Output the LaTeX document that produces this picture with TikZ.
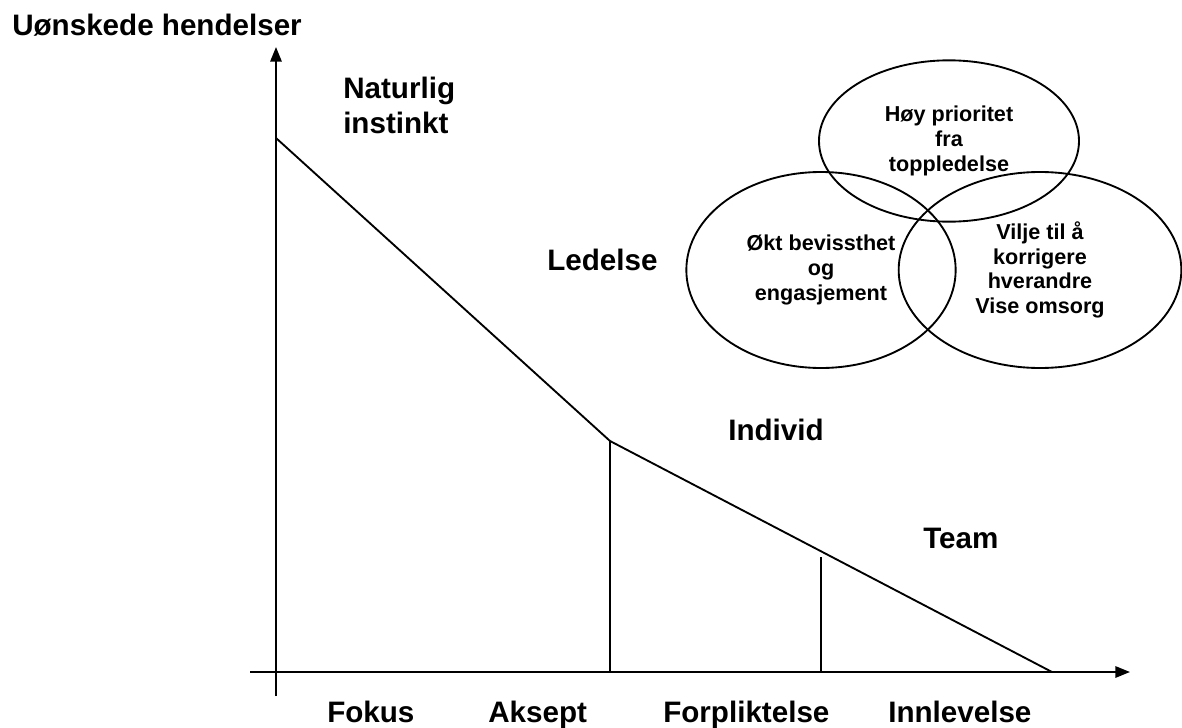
\documentclass[tikz,border=0pt]{standalone}
\usepackage{fontspec}
\setmainfont{Liberation Sans}
\usetikzlibrary{shapes.geometric,arrows.meta}
\begin{document}
\begin{tikzpicture}[x=0.75pt,y=-0.75pt,
  axisline/.style={line width=1.6pt,-{Triangle[length=11pt,width=8.5pt]}},
  plainline/.style={line width=1.4pt},
  biglabel/.style={font=\fontsize{22.2}{26}\selectfont\bfseries, inner sep=0pt, anchor=base west},
  venn/.style={draw, ellipse, line width=1.4pt, inner sep=0pt, align=center,
               font=\fontsize{16.2}{18.5}\selectfont\bfseries}]
\useasboundingbox (0,0) rectangle (1182,728);
% axes
\coordinate (ybot) at (276,696);
\coordinate (ytop) at (276,47);
\coordinate (xleft) at (250,672);
\coordinate (xright) at (1130,672);
\draw[axisline] (ybot) -- (ytop);
\draw[axisline] (xleft) -- (xright);
% curve
\coordinate (p0) at (276,138);
\coordinate (p1) at (610,441);
\coordinate (p2) at (1052,672);
\coordinate (f1) at (610,672);
\coordinate (v2t) at (821,557);
\coordinate (f2) at (821,672);
\draw[plainline] (p0) -- (p1) -- (p2);
\draw[plainline] (p1) -- (f1);
\draw[plainline] (v2t) -- (f2);
% labels
\node[biglabel] (title) at (12,35) {Uønskede hendelser};
\node[biglabel] (nat1) at (343,98) {Naturlig};
\node[biglabel] (nat2) at (343,133) {instinkt};
\node[biglabel] (led) at (547,270) {Ledelse};
\node[biglabel] (ind) at (728,440) {Individ};
\node[biglabel] (team) at (923,548) {Team};
\node[biglabel] (fok) at (327,722) {Fokus};
\node[biglabel] (aks) at (488,722) {Aksept};
\node[biglabel] (forp) at (663,722) {Forpliktelse};
\node[biglabel] (innl) at (888,722) {Innlevelse};
% venn ellipses
\node[venn, minimum width=195pt, minimum height=121pt] (top) at (949,141) {Høy prioritet\\fra\\toppledelse};
\node[venn, minimum width=202pt, minimum height=147pt] (left) at (821,270) {Økt bevissthet\\og\\engasjement};
\node[venn, minimum width=212pt, minimum height=147pt] (right) at (1040,270) {Vilje til å\\korrigere\\hverandre\\Vise omsorg};
\end{tikzpicture}
\end{document}
